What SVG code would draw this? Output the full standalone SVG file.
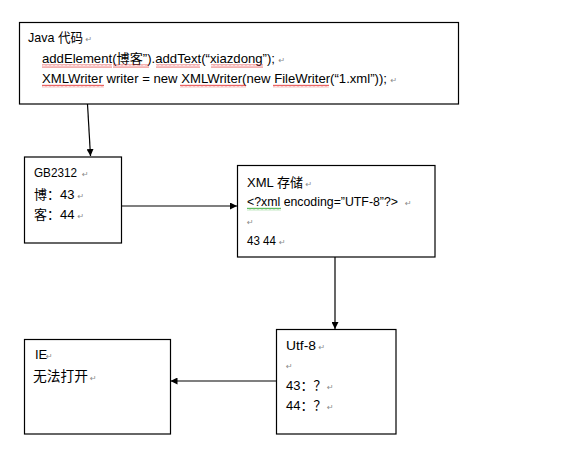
<svg xmlns="http://www.w3.org/2000/svg" width="561" height="468" viewBox="0 0 561 468">
  <style>
    .box { fill: #ffffff; stroke: #000000; stroke-width: 1.2; }
    .t { font-family: "Liberation Sans", "Noto Sans CJK SC", sans-serif; font-size: 13px; fill: #000000; }
    .cn { font-family: "Liberation Sans", "Noto Sans CJK SC", sans-serif; font-size: 13px; fill: #000000; }
    .pm { font-family: "DejaVu Sans", sans-serif; font-size: 8px; fill: #8a8a8a; }
    .conn { stroke: #000000; stroke-width: 1.2; fill: none; marker-end: url(#arrow); }
  </style>
  <defs>
    <marker id="arrow" viewBox="0 0 10 10" refX="10" refY="5" markerWidth="7" markerHeight="7" markerUnits="userSpaceOnUse" orient="auto">
      <path d="M0,0 L10,5 L0,10 Z" fill="#000000"/>
    </marker>
    <pattern id="wavyRed" width="4" height="3" patternUnits="userSpaceOnUse">
      <path d="M0,2.4 L1,0.6 L2,2.4 L3,0.6 L4,2.4" stroke="#e02020" stroke-width="0.7" fill="none"/>
    </pattern>
    <pattern id="wavyGreen" width="4" height="3" patternUnits="userSpaceOnUse">
      <path d="M0,2.4 L1,0.6 L2,2.4 L3,0.6 L4,2.4" stroke="#20a020" stroke-width="0.7" fill="none"/>
    </pattern>
  </defs>

  <g id="connectors">
    <line class="conn" x1="87.5" y1="104" x2="90.5" y2="156"/>
    <line class="conn" x1="121.5" y1="206" x2="237" y2="206"/>
    <line class="conn" x1="335" y1="257" x2="335" y2="329"/>
    <line class="conn" x1="276" y1="381" x2="170.5" y2="381"/>
  </g>

  <g id="java">
    <rect class="box" x="19.5" y="22.5" width="439" height="81.5"/>
    <text class="t" x="28" y="42" textLength="55" lengthAdjust="spacingAndGlyphs">Java 代码</text>
    <text class="pm" x="85.5" y="42">↵</text>
    <text class="t" x="42" y="63" textLength="233" lengthAdjust="spacingAndGlyphs">addElement(博客”).addText(“xiazdong”);</text>
    <text class="pm" x="278.5" y="63">↵</text>
    <text class="t" x="42" y="83" textLength="345" lengthAdjust="spacingAndGlyphs">XMLWriter writer = new XMLWriter(new FileWriter(“1.xml”));</text>
    <text class="pm" x="390.5" y="83">↵</text>
    <rect x="42" y="64.5" width="70" height="3" fill="url(#wavyRed)"/>
    <rect x="113" y="64.5" width="36" height="3" fill="url(#wavyRed)"/>
    <rect x="156" y="64.5" width="44" height="3" fill="url(#wavyRed)"/>
    <rect x="211" y="64.5" width="52" height="3" fill="url(#wavyRed)"/>
    <rect x="42" y="84.5" width="62" height="3" fill="url(#wavyRed)"/>
    <rect x="180" y="84.5" width="66" height="3" fill="url(#wavyRed)"/>
    <rect x="273" y="84.5" width="56" height="3" fill="url(#wavyRed)"/>
  </g>

  <g id="gb2312">
    <rect class="box" x="24.5" y="157" width="97" height="86"/>
    <text class="t" x="34" y="177" textLength="43" lengthAdjust="spacingAndGlyphs">GB2312</text>
    <text class="pm" x="82" y="177">↵</text>
    <text class="cn" x="34" y="199">博：43</text>
    <text class="pm" x="77.5" y="199">↵</text>
    <text class="cn" x="34" y="219">客：44</text>
    <text class="pm" x="77.5" y="219">↵</text>
  </g>

  <g id="xml">
    <rect class="box" x="237.5" y="165.5" width="197.5" height="91.5"/>
    <text class="t" x="247" y="187" textLength="56" lengthAdjust="spacingAndGlyphs">XML 存储</text>
    <text class="pm" x="305.5" y="187">↵</text>
    <text class="t" x="247" y="206" textLength="151" lengthAdjust="spacingAndGlyphs">&lt;?xml encoding=”UTF-8”?&gt;</text>
    <text class="pm" x="405" y="206">↵</text>
    <rect x="247" y="207.5" width="34" height="3" fill="url(#wavyGreen)"/>
    <text class="pm" x="247" y="225">↵</text>
    <text class="t" x="247" y="245" textLength="29" lengthAdjust="spacingAndGlyphs">43 44</text>
    <text class="pm" x="279" y="245">↵</text>
  </g>

  <g id="utf8">
    <rect class="box" x="276.5" y="329.5" width="119.5" height="104.5"/>
    <text class="t" x="286" y="350" textLength="30" lengthAdjust="spacingAndGlyphs">Utf-8</text>
    <text class="pm" x="318.5" y="350">↵</text>
    <text class="pm" x="286" y="369">↵</text>
    <text class="t" x="286" y="390">43：？</text>
    <text class="pm" x="327" y="390">↵</text>
    <text class="t" x="286" y="410">44：？</text>
    <text class="pm" x="327" y="410">↵</text>
  </g>

  <g id="ie">
    <rect class="box" x="24.5" y="339.5" width="146" height="94.5"/>
    <text class="t" x="35" y="359">IE</text>
    <text class="pm" x="46" y="359">↵</text>
    <text class="cn" x="33" y="381" style="font-size:14px" textLength="55" lengthAdjust="spacingAndGlyphs">无法打开</text>
    <text class="pm" x="90" y="381">↵</text>
  </g>
</svg>
